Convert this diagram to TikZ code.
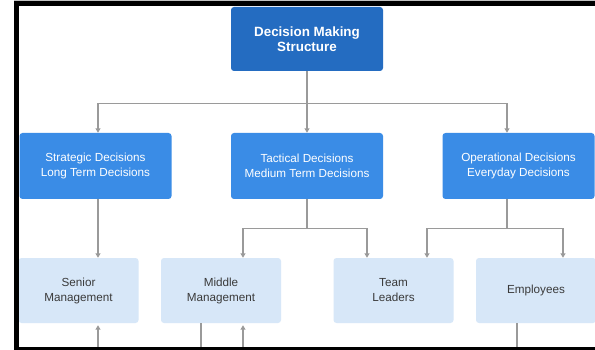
\documentclass[tikz,border=0pt]{standalone}
\usepackage{fontspec}
\setmainfont{Liberation Sans}
\usetikzlibrary{positioning}
\usetikzlibrary{arrows.meta}
\definecolor{headblue}{HTML}{246CC1}
\definecolor{midblue}{HTML}{3A8CE6}
\definecolor{leafblue}{HTML}{D7E7F8}
\definecolor{leaftext}{HTML}{3A3A3A}
\definecolor{linegray}{HTML}{9A9A9A}

\begin{document}
\begin{tikzpicture}[x=1pt,y=-1pt,
		box/.style = {rounded corners=3pt, align=center, inner sep=0pt},
		head/.style = {box, fill=headblue, text=white, font=\bfseries\fontsize{13.4}{15.5}\selectfont,
			minimum width=152pt, minimum height=64pt},
		level/.style = {box, fill=midblue, text=white, font=\fontsize{11.7}{14.8}\selectfont,
			minimum width=152pt, minimum height=66pt},
		leaf/.style = {box, fill=leafblue, text=leaftext, font=\fontsize{11.7}{15}\selectfont,
			minimum width=120pt, minimum height=65pt},
		plain/.style = {draw=linegray, line width=1.1pt},
		link/.style = {plain, -{Triangle[width=5pt,length=4.5pt]}}
		]
		\useasboundingbox (0,0) rectangle (595,350);
		\fill[white] (0,0) rectangle (595,350);
		
		\node at (307,39) (top) [head] {Decision Making\\Structure};
		
		\node at (95.5,166) (strat) [level] {Strategic Decisions\\Long Term Decisions};
		\node at (307,166) (tact) [level] {Tactical Decisions\\Medium Term Decisions};
		\node at (518.5,166) (oper) [level] {Operational Decisions\\Everyday Decisions};
		
		\node at (78.5,290.5) (senior) [leaf] {Senior\\Management};
		\node at (221,290.5) (middle) [leaf] {Middle\\Management};
		\node at (393.5,290.5) (team) [leaf] {Team\\Leaders};
		\node at (536,290.5) (empl) [leaf] {Employees};
		
		\coordinate (sbot) at (98,350);
		\coordinate (mbot1) at (201,350);
		\coordinate (mbot2) at (243,350);
		\coordinate (ebot) at (517,350);
		
		% top level
		\draw [link] (top.south) -- ++(0,32) -| ([xshift=2.5pt]strat.north);
		\draw [link] (top.south) -- (tact.north);
		\draw [link] (top.south) -- ++(0,32) -| ([xshift=-11.5pt]oper.north);
		
		% second level
		\draw [link] ([xshift=2.5pt]strat.south) -- ([xshift=2.5pt]strat.south |- senior.north);
		\draw [link] (tact.south) -- ++(0,29) -| ([xshift=22pt]middle.north);
		\draw [link] (tact.south) -- ++(0,29) -| ([xshift=-26.5pt]team.north);
		\draw [link] ([xshift=-11.5pt]oper.south) -- ++(0,29) -| ([xshift=33.5pt]team.north);
		\draw [link] ([xshift=-11.5pt]oper.south) -- ++(0,29) -| ([xshift=27pt]empl.north);
		
		% bottom
		\draw [link, shorten >=2pt] (sbot) -- ([xshift=19.5pt]senior.south);
		\draw [link, shorten >=2pt] (mbot2) -- ([xshift=22pt]middle.south);
		\draw [plain] ([xshift=-20pt]middle.south) -- (mbot1);
		\draw [plain] ([xshift=-19pt]empl.south) -- (ebot);
		
		% screenshot frame
		\fill[linegray!60] (14,0) rectangle (595,1);
		\fill[black] (14,1) rectangle (595,6);
		\fill[black] (14,1) rectangle (19,350);
		\fill[black] (14,347) rectangle (595,350);
	\end{tikzpicture}
\end{document}
